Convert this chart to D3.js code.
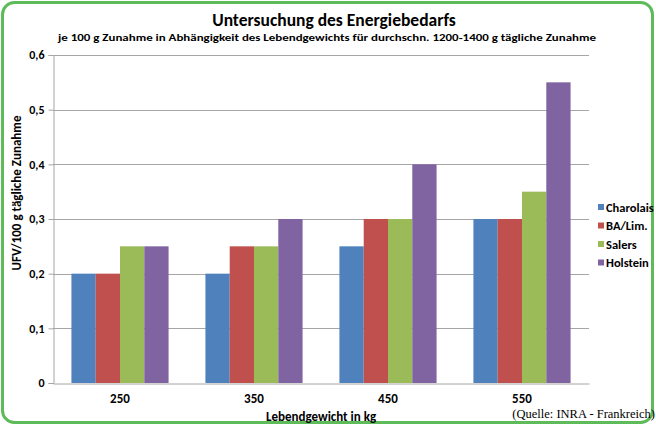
<!DOCTYPE html>
<html>
<head>
<meta charset="utf-8">
<script src="https://cdn.jsdelivr.net/npm/d3@7"></script>
<style>
  html, body { margin: 0; padding: 0; background: #fff; }
  svg text { font-family: Carlito, Lato, "Open Sans", sans-serif; }
</style>
</head>
<body>
<svg id="chart" width="656" height="426"></svg>
<script>
const weights = ["250", "350", "450", "550"];
const breeds = ["Charolais", "BA/Lim.", "Salers", "Holstein"];
const colors = ["#4F81BD", "#C0504D", "#9BBB59", "#8064A2"];
const charolais = [0.2, 0.2, 0.25, 0.3];
const baLim = [0.2, 0.25, 0.3, 0.3];
const salers = [0.25, 0.25, 0.3, 0.35];
const holstein = [0.25, 0.3, 0.4, 0.55];
const yTicks = [0, 0.1, 0.2, 0.3, 0.4, 0.5, 0.6];

const series = [charolais, baLim, salers, holstein];

const svg = d3.select("#chart");
const plotL = 53, plotR = 589, plotT = 55, plotB = 383;

// green rounded frame
svg.append("rect")
  .attr("x", 2.5).attr("y", 2.5)
  .attr("width", 650).attr("height", 420)
  .attr("rx", 12)
  .attr("fill", "#fff")
  .attr("stroke", "#5DBB5A")
  .attr("stroke-width", 3);

const x0 = d3.scaleBand().domain(weights).range([plotL, plotR]).paddingInner(0.275).paddingOuter(0.1375);
const x1 = d3.scaleBand().domain(breeds).range([0, x0.bandwidth()]);
const y = d3.scaleLinear().domain([0, 0.6]).range([plotB, plotT]);

const fmt = d => d === 0 ? "0" : d3.format(".1f")(d).replace(".", ",");

// gridlines
svg.append("g")
  .selectAll("line")
  .data(yTicks.filter(d => d > 0))
  .join("line")
  .attr("x1", plotL).attr("x2", plotR)
  .attr("y1", d => Math.round(y(d)) + 0.5).attr("y2", d => Math.round(y(d)) + 0.5)
  .attr("stroke", "#A6A6A6")
  .attr("stroke-width", 1);

// y axis
const yAxis = svg.append("g")
  .attr("transform", `translate(${plotL + 0.5},0)`)
  .call(d3.axisLeft(y).tickValues(yTicks).tickFormat(fmt).tickSize(5).tickPadding(4));
yAxis.select(".domain").attr("stroke", "#A6A6A6");
yAxis.selectAll(".tick line").attr("stroke", "#A6A6A6");
yAxis.selectAll(".tick text")
  .attr("font-size", 12).attr("font-weight", "bold").attr("fill", "#000")
  .style("font-family", "Carlito, Lato, sans-serif");

// bars
svg.append("g")
  .selectAll("g")
  .data(weights)
  .join("g")
  .attr("transform", d => `translate(${x0(d)},0)`)
  .selectAll("rect")
  .data((d, i) => breeds.map((b, j) => ({ breed: b, value: series[j][i], color: colors[j] })))
  .join("rect")
  .attr("x", d => x1(d.breed))
  .attr("y", d => y(d.value))
  .attr("width", x1.bandwidth())
  .attr("height", d => y(0) - y(d.value))
  .attr("fill", d => d.color);

// x axis
const xAxis = svg.append("g")
  .attr("transform", `translate(0,${plotB + 0.5})`)
  .call(d3.axisBottom(x0).tickSize(0).tickPadding(10).tickSizeOuter(0));
xAxis.select(".domain").attr("stroke", "#A6A6A6");
xAxis.selectAll(".tick text")
  .attr("font-size", 13).attr("font-weight", "bold").attr("fill", "#000")
  .style("font-family", "Carlito, Lato, sans-serif");

// titles
svg.append("text")
  .attr("x", 334).attr("y", 26)
  .attr("text-anchor", "middle")
  .attr("font-size", 17.5).attr("font-weight", "bold")
  .text("Untersuchung des Energiebedarfs");

svg.append("text")
  .attr("x", 327).attr("y", 41)
  .attr("text-anchor", "middle")
  .attr("font-size", 10.5).attr("font-weight", "bold")
  .attr("textLength", 538).attr("lengthAdjust", "spacingAndGlyphs")
  .text("je 100 g Zunahme in Abhängigkeit des Lebendgewichts für durchschn. 1200-1400 g tägliche Zunahme");

svg.append("text")
  .attr("transform", "translate(21,193) rotate(-90)")
  .attr("text-anchor", "middle")
  .attr("font-size", 13).attr("font-weight", "bold")
  .text("UFV/100 g tägliche Zunahme");

svg.append("text")
  .attr("x", 321).attr("y", 421)
  .attr("text-anchor", "middle")
  .attr("font-size", 13).attr("font-weight", "bold")
  .text("Lebendgewicht in kg");

svg.append("text")
  .attr("x", 655).attr("y", 418)
  .attr("text-anchor", "end")
  .attr("font-size", 12.5)
  .style("font-family", "'Liberation Serif', 'DejaVu Serif', serif")
  .text("(Quelle: INRA - Frankreich)");

// legend
const legend = svg.append("g")
  .selectAll("g")
  .data(breeds)
  .join("g")
  .attr("transform", (d, i) => `translate(598,${208 + i * 18.5})`);
legend.append("rect")
  .attr("x", 0).attr("y", -4)
  .attr("width", 6).attr("height", 6)
  .attr("fill", (d, i) => colors[i]);
legend.append("text")
  .attr("x", 8).attr("y", 3.5)
  .attr("font-size", 12.5).attr("font-weight", "bold")
  .text(d => d);
</script>
</body>
</html>
